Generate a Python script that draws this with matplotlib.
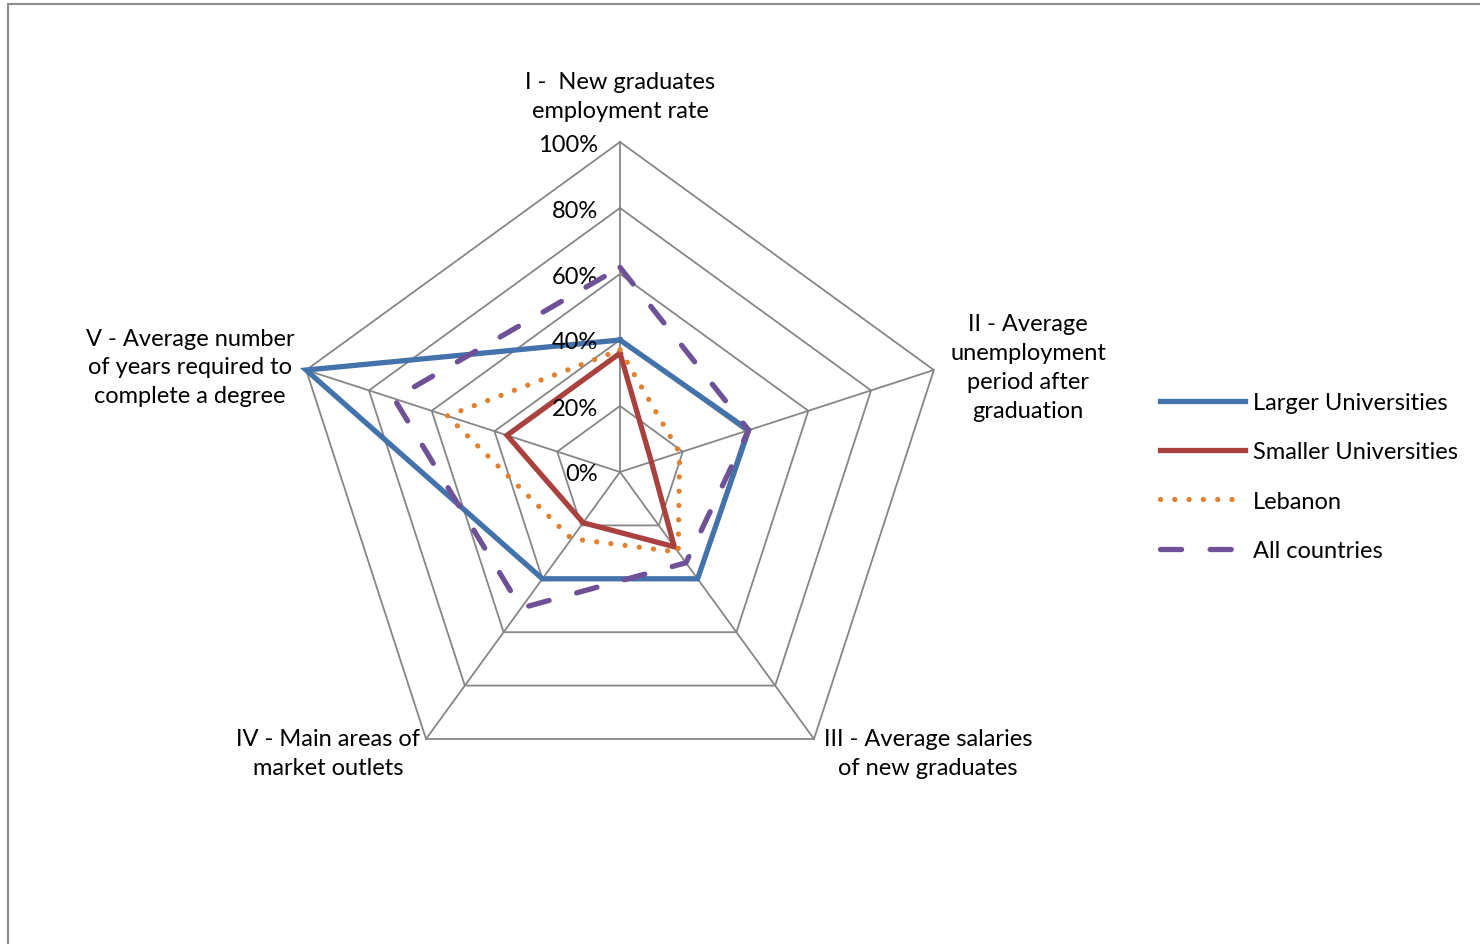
import numpy as np
import matplotlib
matplotlib.use("Agg")
import matplotlib.pyplot as plt
from matplotlib.patches import Rectangle

plt.rcParams['font.family'] = ['Lato', 'DejaVu Sans']

categories = ["I -  New graduates\nemployment rate",
              "II - Average\nunemployment\nperiod after\ngraduation",
              "III - Average salaries\nof new graduates",
              "IV - Main areas of\nmarket outlets",
              "V - Average number\nof years required to\ncomplete a degree"]
tick_values = [0, 0.2, 0.4, 0.6, 0.8, 1.0]
tick_labels = ["0%", "20%", "40%", "60%", "80%", "100%"]

larger = [0.40, 0.41, 0.40, 0.40, 1.00]
smaller = [0.36, 0.10, 0.28, 0.19, 0.36]
lebanon = [0.37, 0.19, 0.30, 0.25, 0.55]
all_countries = [0.62, 0.41, 0.34, 0.51, 0.72]
series_names = ["Larger Universities", "Smaller Universities", "Lebanon", "All countries"]

W, H = 1480, 945
fig = plt.figure(figsize=(W / 100, H / 100), dpi=100)
ax = fig.add_axes([0, 0, 1, 1])
cx, cy, R = 620, 473, 330
ax.set_xlim(-cx / R, (W - cx) / R)
ax.set_ylim(-(H - cy) / R, cy / R)
ax.axis('off')

# chart border
fig.patches.append(Rectangle((8 / W, -0.1), 1.2, (H - 5) / H + 0.1, transform=fig.transFigure,
                             fill=False, edgecolor='#8c8c8c', linewidth=1.5))

n = len(categories)
angles = np.deg2rad(90 - 72 * np.arange(n))
ca, sa = np.cos(angles), np.sin(angles)

grid_c = '#868686'
for t in tick_values[1:]:
    xs = np.append(t * ca, t * ca[0])
    ys = np.append(t * sa, t * sa[0])
    ax.plot(xs, ys, color=grid_c, lw=1.3, zorder=1)
for i in range(n):
    ax.plot([0, ca[i]], [0, sa[i]], color=grid_c, lw=1.3, zorder=1)

fs = 17
for t, lab in zip(tick_values, tick_labels):
    ax.text(-22 / R, t - 2 / R, lab, ha='right', va='center', fontsize=fs, zorder=5)

def closed(v):
    v = np.asarray(v)
    return np.append(v * ca, v[0] * ca[0]), np.append(v * sa, v[0] * sa[0])

styles = [
    dict(color='#4472AB', lw=3.8, ls='-', solid_joinstyle='miter'),
    dict(color='#A9413E', lw=3.8, ls='-', solid_joinstyle='miter'),
    dict(color='#E0812F', lw=3.8, ls=(0, (0.01, 2.7)), dash_capstyle='round'),
    dict(color='#6E5196', lw=3.8, ls=(0, (4.0, 5.4)), dash_capstyle='round'),
]
for k, (vals, name, st) in enumerate(zip([larger, smaller, lebanon, all_countries], series_names, styles)):
    xs, ys = closed(vals)
    ax.plot(xs, ys, label=name, zorder=3 + k, **st)

# category labels
lab_pos = [
    (620, 97),
    (1028, 368),
    (928, 754),
    (328, 754),
    (190, 368),
]
for lab, (px, py) in zip(categories, lab_pos):
    ax.text((px - cx) / R, (cy - py) / R, lab, ha='center', va='center', fontsize=fs,
            linespacing=1.46, multialignment='center')

leg = ax.legend(loc='upper left', bbox_to_anchor=(1160 / W, 1 - 393 / H),
                bbox_transform=fig.transFigure, frameon=False, fontsize=fs,
                handlelength=3.6, handletextpad=0.33, labelspacing=1.2,
                borderpad=0, borderaxespad=0)

fig.savefig("out.png", dpi=100)
